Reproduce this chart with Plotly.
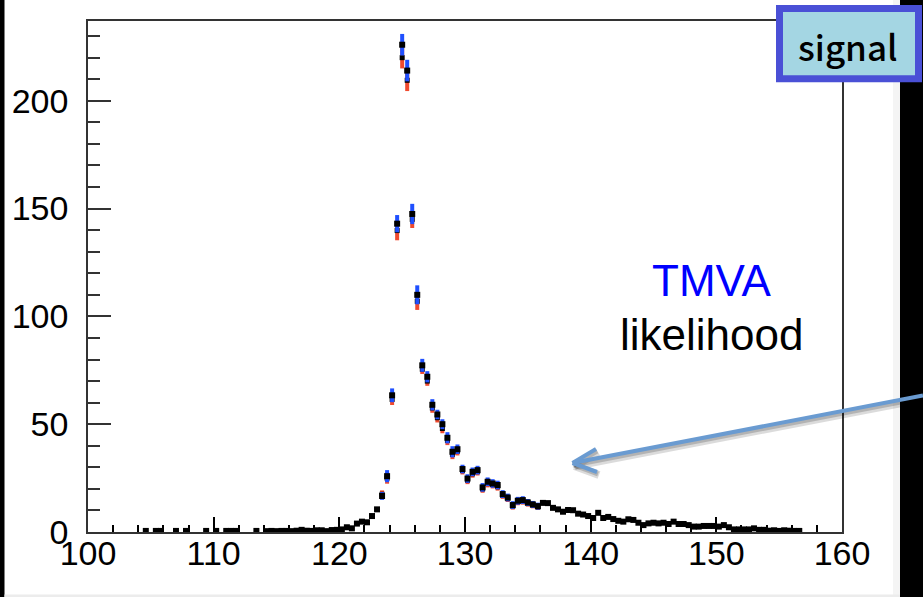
import numpy as np
import plotly.graph_objects as go

# ---------------- data ----------------
BIN_LO, BIN_W, NBINS = 100.0, 0.4, 150
centers = [round(BIN_LO + BIN_W * (k + 0.5), 1) for k in range(NBINS)]

counts = [
    0, 0, 0, 0, 0, 0, 0, 0, 0, 0,            # 100.2 - 103.8
    0, 0.5, 0, 0.5, 0.5, 0, 0, 0.5, 0, 0.5,  # 104.2 - 107.8
    0, 0, 0, 0.5, 0, 0.5, 0, 0.5, 0.5, 0.5,  # 108.2 - 111.8
    0, 0, 0, 0.5, 0, 0.4, 0.5, 0.4, 0.5, 0.5,  # 112.2 - 115.8
    0.4, 0.6, 1.0, 0.6, 0.5, 0.8, 0.8, 0.4, 0.9, 1.0,  # 116.2 - 119.8
    1.2, 2.2, 1.7, 3.9, 4.8, 4.5, 7.4, 10.5, 16.7, 25.9,  # 120.2 - 123.8
    63.4, 143, 226, 214, 147.5, 110, 77.3, 72, 59, 54.5,  # 124.2 - 127.8
    50, 43.7, 37.2, 38.4, 29.2, 24.8, 27.9, 28.7, 20.7, 23.3,  # 128.2 - 131.8
    22.5, 21.8, 17.6, 16, 12.5, 14.5, 14.8, 13.7, 12.8, 12,  # 132.2 - 135.8
    13.5, 13.4, 11.2, 10.5, 9.4, 10.2, 10.1, 8.5, 8.1, 7.4,  # 136.2 - 139.8
    6.5, 8.9, 6.5, 7.0, 6.0, 5.2, 4.8, 5.9, 5.6, 4.3,  # 140.2 - 143.8
    3.2, 4.0, 4.3, 4.0, 4.3, 3.7, 4.8, 3.7, 3.7, 3.2,  # 144.2 - 147.8
    2.5, 2.5, 2.8, 2.8, 2.8, 2.5, 3.2, 2.2, 1.2, 1.2,  # 148.2 - 151.8
    1.2, 1.2, 1.7, 1.0, 1.0, 0.6, 0.8, 0.5, 0.8, 0.6,  # 152.2 - 155.8
    0.5, 0.5, 0, 0, 0, 0, 0, 0, 0, 0,        # 156.2 - 159.8
]

# bins where the blue / red comparison histograms are visible
band_x = [123.4, 123.8, 124.2, 124.6, 125.0, 125.4, 125.8, 126.2, 126.6, 127.0,
          127.4, 127.8, 128.2, 128.6, 129.0, 129.4, 129.8, 130.2, 130.6, 131.0,
          131.4, 131.8, 132.2, 132.6, 133.0, 133.4, 133.8, 134.2, 134.6, 135.0,
          135.4, 135.8]
blue_err = [1.8, 2.8, 3.2, 4.0, 5.0, 5.0, 4.7, 4.4, 3.0, 2.6,
            2.6, 2.2, 2.3, 2.6, 2.6, 2.2, 2.0, 2.0, 2.0, 2.0,
            2.0, 2.0, 2.0, 2.0, 1.8, 1.8, 1.8, 1.8, 1.8, 1.6,
            1.6, 1.6]
red_val = [17.5, 25.0, 61.5, 139.8, 220, 209.5, 145, 107, 75.5, 70,
           57.5, 53, 48, 42.5, 36, 37.5, 28.5, 24, 27, 28,
           20, 22.5, 22, 21, 17, 15.5, 12, 14, 14.3, 13.2,
           12.4, 11.6]
red_err = [1.8, 2.6, 2.6, 4.5, 5.0, 5.0, 4.0, 4.0, 2.2, 2.2,
           2.2, 2.2, 2.2, 2.2, 2.2, 2.0, 1.8, 1.8, 1.8, 1.8,
           1.8, 1.8, 1.8, 1.8, 1.6, 1.6, 1.6, 1.6, 1.6, 1.4,
           1.4, 1.4]

x_ticks = [100, 110, 120, 130, 140, 150, 160]
y_ticks = [0, 50, 100, 150, 200]

# ---------------- figure ----------------
W, H = 923, 597
L, R, T, B = 88, 81, 21, 65
PW, PH = W - L - R, H - T - B


def fx(p):
    return (p - L) / PW


def fy(p):
    return (H - B - p) / PH


cnt = dict(zip(centers, counts))
nz_x = [c for c, v in zip(centers, counts) if v > 0]
nz_y = [v for v in counts if v > 0]
blue_val = [cnt[c] for c in band_x]

fig = go.Figure()
fig.add_trace(go.Scatter(
    x=band_x, y=red_val, mode="markers",
    marker=dict(symbol="square", size=5, color="black"),
    error_y=dict(type="data", array=red_err, color="#f04a2e", thickness=4, width=0),
    showlegend=False, hoverinfo="skip"))
fig.add_trace(go.Scatter(
    x=band_x, y=blue_val, mode="markers",
    marker=dict(symbol="square", size=1, color="rgba(0,0,0,0)"),
    error_y=dict(type="data", array=blue_err, color="#1f50ff", thickness=4, width=0),
    showlegend=False, hoverinfo="skip"))
fig.add_trace(go.Scatter(
    x=nz_x, y=nz_y, mode="markers",
    marker=dict(symbol="square", size=6, color="black"),
    showlegend=False))

axis_font = dict(family="Liberation Sans, Arial", size=34, color="black")
fig.update_xaxes(
    range=[100, 160], tickvals=x_ticks, ticktext=[str(t) for t in x_ticks],
    ticks="inside", ticklen=15, tickwidth=1.5, tickcolor="black",
    minor=dict(dtick=2, ticks="inside", ticklen=7, tickwidth=1.5, tickcolor="black"),
    showgrid=False, zeroline=False, showline=True, linecolor="#333", linewidth=1.5,
    mirror=True, tickfont=axis_font, ticklabelstandoff=-10)
fig.update_yaxes(
    range=[0, 237], tickvals=y_ticks, ticktext=[str(t) for t in y_ticks],
    ticks="inside", ticklen=23, tickwidth=1.5, tickcolor="#333",
    minor=dict(dtick=10, ticks="inside", ticklen=12, tickwidth=1.5, tickcolor="#333"),
    showgrid=False, zeroline=False, showline=True, linecolor="#333", linewidth=1.5,
    mirror=True, tickfont=axis_font, ticklabelstandoff=11)

shapes = []
# slide border strips
shapes.append(dict(type="rect", xref="paper", yref="paper", x0=fx(0), x1=fx(4.5), y0=fy(597), y1=fy(0),
                   fillcolor="black", line=dict(width=0), layer="below"))
shapes.append(dict(type="rect", xref="paper", yref="paper", x0=fx(893), x1=fx(900), y0=fy(597), y1=fy(0),
                   fillcolor="#f4f4f4", line=dict(width=0), layer="below"))
shapes.append(dict(type="rect", xref="paper", yref="paper", x0=fx(900), x1=fx(923), y0=fy(597), y1=fy(0),
                   fillcolor="black", line=dict(width=0), layer="below"))
shapes.append(dict(type="rect", xref="paper", yref="paper", x0=fx(4.5), x1=fx(900), y0=fy(597), y1=fy(594.5),
                   fillcolor="#ececec", line=dict(width=0), layer="below"))


def seg(x0, y0, x1, y1, color, width):
    return dict(type="line", xref="paper", yref="paper", x0=fx(x0), y0=fy(y0), x1=fx(x1), y1=fy(y1),
                line=dict(color=color, width=width), layer="above")


# arrow shadow + arrow
tip = (572.5, 463.0)
for dx, dy, col, w in [(2, 3, "rgba(0,0,0,0.14)", 8), (1, 2, "rgba(0,0,0,0.18)", 5)]:
    shapes.append(seg(923 + dx, 395.5 + dy, tip[0] + dx, tip[1] + dy, col, w))
    shapes.append(seg(tip[0] + dx, tip[1] + dy, 596 + dx, 449 + dy, col, w))
    shapes.append(seg(tip[0] + dx, tip[1] + dy, 597 + dx, 472 + dy, col, w))
acol = "#6a9bd1"
shapes.append(seg(923, 395.5, tip[0] + 1, tip[1] - 0.2, acol, 4))
shapes.append(seg(tip[0], tip[1], 596, 449, acol, 4))
shapes.append(seg(tip[0], tip[1], 597, 472, acol, 4))

# signal box
shapes.append(dict(type="rect", xref="paper", yref="paper", x0=fx(779.5), x1=fx(918.5), y0=fy(78.8), y1=fy(8.5),
                   fillcolor="#a4d6e3", line=dict(color="#4a50d6", width=7), layer="above"))

fig.update_layout(shapes=shapes)

fig.add_annotation(xref="paper", yref="paper", x=fx(848), y=fy(45), text="signal", showarrow=False,
                   xanchor="center", yanchor="middle",
                   font=dict(family="Noto Sans CJK JP", size=35, color="black", weight=500))
fig.add_annotation(xref="paper", yref="paper", x=fx(711.5), y=fy(280), text="TMVA", showarrow=False,
                   xanchor="center", yanchor="middle",
                   font=dict(family="Liberation Sans, Arial", size=44, color="#0000ff"))
fig.add_annotation(xref="paper", yref="paper", x=fx(711), y=fy(334), text="likelihood", showarrow=False,
                   xanchor="center", yanchor="middle",
                   font=dict(family="Liberation Sans, Arial", size=44, color="black"))

fig.update_layout(
    width=W, height=H, margin=dict(l=L, r=R, t=T, b=B, pad=0),
    paper_bgcolor="white", plot_bgcolor="white", showlegend=False)

fig.write_html("out.html")
